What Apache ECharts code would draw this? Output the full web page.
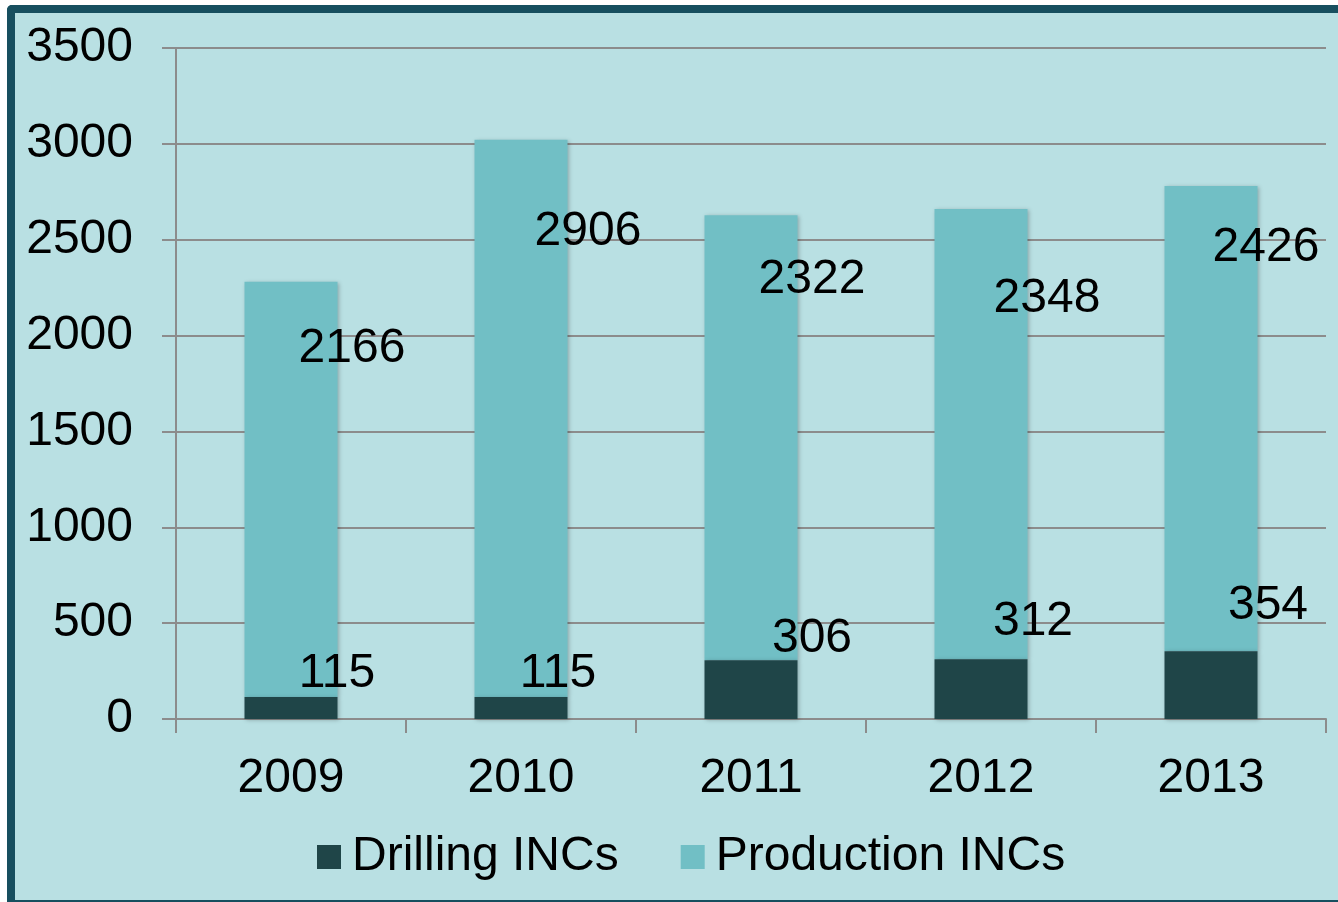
<!DOCTYPE html>
<html>
<head>
<meta charset="utf-8">
<script src="https://cdn.jsdelivr.net/npm/echarts@6/dist/echarts.min.js"></script>
<style>
  html, body { margin: 0; padding: 0; background: #ffffff; }
  #frame {
    position: absolute; left: 7px; top: 5px; right: 0; bottom: 0;
    background: #b9e0e3;
    border-left: 8px solid #174f5f;
    border-top: 8px solid #174f5f;
    border-bottom: 2px solid #174f5f;
    border-top-left-radius: 5px;
  }
  #chart { position: absolute; left: 0; top: 0; width: 1338px; height: 902px; }
</style>
</head>
<body>
<div id="frame"></div>
<div id="chart"></div>
<script>
  // data
  const years = ["2009", "2010", "2011", "2012", "2013"];
  const drilling = [115, 115, 306, 312, 354];
  const production = [2166, 2906, 2322, 2348, 2426];
  const yTicks = [0, 500, 1000, 1500, 2000, 2500, 3000, 3500];

  // label nudges (px, relative to segment centre) - the source chart has them scattered
  const drillNudge = [[46, -34], [37, -34], [61, -51], [52, -67], [57, -79]];
  const prodNudge = [[61, -141], [67, -187], [61, -158], [66, -135], [55, -171]];

  const FONT = "'Liberation Sans', Arial, sans-serif";
  const GRID_COL = "#8c8c8c";

  function withLabels(values, nudges) {
    return values.map((v, i) => ({
      value: v,
      label: { offset: nudges[i] },
    }));
  }

  const barShadow = {
    shadowBlur: 4,
    shadowColor: "rgba(0,0,0,0.25)",
    shadowOffsetX: 1,
    shadowOffsetY: 1,
  };

  const chart = echarts.init(document.getElementById("chart"), null, { renderer: "canvas" });
  chart.setOption({
    backgroundColor: "transparent",
    animation: false,
    textStyle: { fontFamily: FONT },
    grid: { left: 176, right: 12, top: 48, bottom: 183, containLabel: false },
    legend: {
      left: 312,
      top: 828,
      icon: "rect",
      itemWidth: 24,
      itemHeight: 24,
      itemGap: 62,
      textStyle: { fontSize: 48, color: "#000", fontFamily: FONT, padding: [0, 0, 0, 6] },
      data: ["Drilling INCs", "Production INCs"],
    },
    xAxis: {
      type: "category",
      data: years,
      axisLine: { lineStyle: { color: GRID_COL, width: 2 } },
      axisTick: { show: true, length: 14, lineStyle: { color: GRID_COL, width: 2 } },
      axisLabel: { fontSize: 48, color: "#000", margin: 36, fontFamily: FONT },
    },
    yAxis: {
      type: "value",
      min: yTicks[0],
      max: yTicks[yTicks.length - 1],
      interval: 500,
      axisLine: { show: true, lineStyle: { color: GRID_COL, width: 2 } },
      axisTick: { show: true, length: 14, lineStyle: { color: GRID_COL, width: 2 } },
      axisLabel: {
        fontSize: 48, color: "#000", margin: 43, fontFamily: FONT,
        formatter: (v) => String(v),
      },
      splitLine: { show: true, lineStyle: { color: GRID_COL, width: 2 } },
    },
    series: [
      {
        name: "Drilling INCs",
        type: "bar",
        stack: "total",
        barWidth: 93,
        itemStyle: Object.assign({ color: "#1f4548" }, barShadow),
        label: { show: true, position: "inside", fontSize: 48, color: "#000", fontFamily: FONT },
        data: withLabels(drilling, drillNudge),
        z: 3,
      },
      {
        name: "Production INCs",
        type: "bar",
        stack: "total",
        barWidth: 93,
        itemStyle: Object.assign({ color: "#71bfc5" }, barShadow),
        label: { show: true, position: "inside", fontSize: 48, color: "#000", fontFamily: FONT },
        data: withLabels(production, prodNudge),
        z: 2,
      },
    ],
  });
</script>
</body>
</html>
